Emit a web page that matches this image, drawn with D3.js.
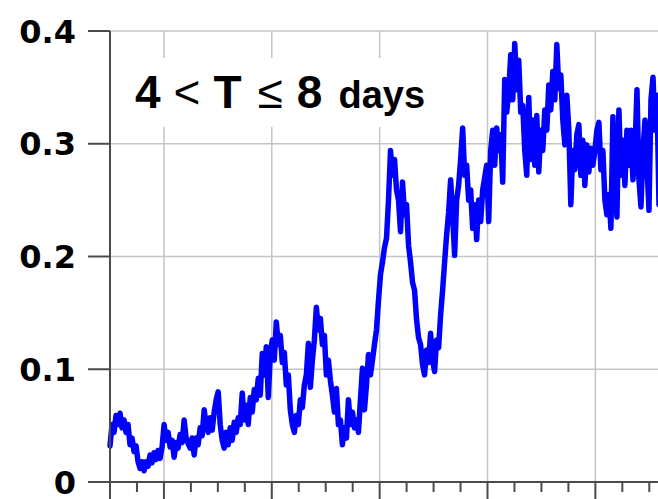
<!DOCTYPE html>
<html>
<head>
<meta charset="utf-8">
<script src="https://cdn.jsdelivr.net/npm/d3@7"></script>
<style>
  html, body { margin: 0; padding: 0; background: #fff; overflow: hidden; }
  svg { display: block; }
</style>
</head>
<body>
<svg id="chart" width="658" height="499"></svg>
<script>
// Y axis ticks and labels
const yTicks = [0, 0.1, 0.2, 0.3, 0.4];
const yTickLabels = ["0", "0.1", "0.2", "0.3", "0.4"];

// X axis: major (gridded) positions and minor tick positions
const xMajor = [0, 1, 2, 3, 4];
const xMinor = [-0.5, -0.25, 0, 0.25, 0.5, 0.75, 1, 1.25, 1.5, 1.75, 2, 2.25, 2.5, 2.75,
                3, 3.25, 3.5, 3.75, 4, 4.25, 4.5];

// Time span covered by the series (evenly sampled)
const tFirst = -0.5;
const tLast = 4.59;

// Series values
const series = [
  // early segment, low level
  0.032, 0.051, 0.044, 0.059, 0.051, 0.061, 0.048, 0.055, 0.044, 0.051,
  0.033, 0.039, 0.027, 0.032, 0.018, 0.012, 0.018, 0.010, 0.018, 0.014,
  0.024, 0.017, 0.026, 0.020, 0.028, 0.021, 0.031, 0.051, 0.037, 0.044,
  0.031, 0.037, 0.022, 0.035, 0.030, 0.042, 0.035, 0.055, 0.039, 0.034,
  0.030, 0.039, 0.024, 0.039, 0.033, 0.048, 0.041, 0.064,
  // first bump
  0.051, 0.044, 0.057, 0.046, 0.062, 0.073, 0.080, 0.051, 0.037, 0.030,
  0.044, 0.033, 0.048, 0.037, 0.053, 0.044, 0.057, 0.051, 0.079, 0.055,
  0.068, 0.051, 0.075, 0.062, 0.082, 0.073, 0.092, 0.077, 0.114, 0.095,
  0.120, 0.075, 0.113, 0.126, 0.108, 0.142, 0.122, 0.130, 0.106, 0.115,
  0.086, 0.095, 0.064, 0.051, 0.044,
  // second bump and the climb
  0.059, 0.051, 0.073, 0.066, 0.086, 0.095, 0.123, 0.084, 0.108, 0.126,
  0.155, 0.135, 0.145, 0.122, 0.130, 0.095, 0.108, 0.090, 0.077, 0.062,
  0.083, 0.051, 0.055, 0.033, 0.048, 0.039, 0.073, 0.051, 0.062, 0.048,
  0.055, 0.044, 0.073, 0.101, 0.064, 0.086, 0.113, 0.095, 0.108, 0.122,
  0.135, 0.161, 0.184, 0.195, 0.208, 0.216, 0.250,
  // peak, dip and recovery
  0.294, 0.272, 0.286, 0.259, 0.250, 0.222, 0.266, 0.237, 0.246, 0.210,
  0.195, 0.177, 0.170, 0.144, 0.128, 0.122, 0.104, 0.095, 0.117, 0.106,
  0.132, 0.108, 0.098, 0.126, 0.119, 0.148, 0.170, 0.195, 0.219, 0.239,
  0.268, 0.237, 0.201, 0.250, 0.263, 0.286, 0.314, 0.272, 0.281, 0.250,
  0.259, 0.225, 0.246, 0.215,
  // high plateau
  0.250, 0.231, 0.259, 0.270, 0.281, 0.231, 0.294, 0.312, 0.281, 0.314,
  0.294, 0.308, 0.266, 0.357, 0.328, 0.346, 0.379, 0.339, 0.389, 0.348,
  0.374, 0.328, 0.334, 0.294, 0.272, 0.341, 0.286, 0.321, 0.281, 0.325,
  0.275, 0.312, 0.294, 0.330, 0.312, 0.352, 0.330, 0.364, 0.339, 0.388,
  0.349, 0.361, 0.321, 0.299, 0.343, 0.312, 0.246,
  // late, noisy stretch
  0.294, 0.277, 0.308, 0.317, 0.272, 0.303, 0.263, 0.299, 0.275, 0.296,
  0.281, 0.294, 0.312, 0.319, 0.277, 0.294, 0.250, 0.237, 0.255, 0.225,
  0.324, 0.259, 0.235, 0.330, 0.272, 0.303, 0.263, 0.312, 0.281, 0.312,
  0.268, 0.294, 0.348, 0.268, 0.244, 0.294, 0.321, 0.281, 0.241, 0.339,
  0.359, 0.312, 0.343, 0.246
];

const W = 658, H = 499;
const plot = { left: 110, right: 659, top: 31, bottom: 482 };

const svg = d3.select("#chart");

const x = d3.scaleLinear().domain([tFirst, tLast]).range([plot.left, plot.right]);
const y = d3.scaleLinear().domain([0, 0.4]).range([plot.bottom, plot.top]);

const tStep = (tLast - tFirst) / (series.length - 1);
const points = series.map((v, i) => ({ t: tFirst + i * tStep, v }));

const gridColor = "#c4c4c4";
const axisColor = "#4a4a4a";

// Grid
const grid = svg.append("g");
grid.selectAll("line.h").data(yTicks.filter(d => d > 0)).join("line")
  .attr("x1", plot.left).attr("x2", W)
  .attr("y1", d => y(d)).attr("y2", d => y(d))
  .attr("stroke", gridColor).attr("stroke-width", 1.5);
grid.selectAll("line.v").data(xMajor).join("line")
  .attr("x1", d => x(d)).attr("x2", d => x(d))
  .attr("y1", y(0.4)).attr("y2", y(0))
  .attr("stroke", gridColor).attr("stroke-width", 1.5);

// Title box
svg.append("rect")
  .attr("x", 120).attr("y", 58).attr("width", 320).attr("height", 69)
  .attr("fill", "#fff");

const title = svg.append("text")
  .attr("x", 135).attr("y", 108)
  .attr("font-family", "'Liberation Sans', Arial, sans-serif")
  .attr("font-size", 46)
  .attr("fill", "#000");
title.append("tspan").attr("font-weight", "bold").text("4");
title.append("tspan").attr("dx", 13).attr("font-weight", "normal").text("<");
title.append("tspan").attr("dx", 13).attr("font-weight", "bold").text("T");
title.append("tspan").attr("dx", 16).attr("font-weight", "normal").text("≤");
title.append("tspan").attr("dx", 14).attr("font-weight", "bold").text("8");
title.append("tspan").attr("dx", 16).attr("font-weight", "bold").attr("font-size", 38).text("days");

// Series line
const line = d3.line().x(d => x(d.t)).y(d => y(d.v));
svg.append("path")
  .datum(points)
  .attr("d", line)
  .attr("fill", "none")
  .attr("stroke", "#0000ff")
  .attr("stroke-width", 5.5)
  .attr("stroke-linejoin", "round")
  .attr("stroke-linecap", "round");

// X axis
const xAxis = svg.append("g");
xAxis.append("line")
  .attr("x1", plot.left).attr("x2", W)
  .attr("y1", y(0)).attr("y2", y(0))
  .attr("stroke", axisColor).attr("stroke-width", 2);
xAxis.selectAll("line.tick").data(xMinor).join("line")
  .attr("x1", d => x(d)).attr("x2", d => x(d))
  .attr("y1", y(0))
  .attr("y2", d => (Number.isInteger(d) ? H : y(0) + 10))
  .attr("stroke", axisColor).attr("stroke-width", 2);

// Y axis
const yAxis = svg.append("g");
yAxis.append("line")
  .attr("x1", plot.left).attr("x2", plot.left)
  .attr("y1", y(0.4)).attr("y2", H)
  .attr("stroke", axisColor).attr("stroke-width", 2);
yAxis.selectAll("line.tick").data(yTicks).join("line")
  .attr("x1", plot.left - 22).attr("x2", plot.left)
  .attr("y1", d => y(d)).attr("y2", d => y(d))
  .attr("stroke", axisColor).attr("stroke-width", 2);
yAxis.selectAll("text").data(yTicks).join("text")
  .attr("x", 76)
  .attr("y", d => y(d))
  .attr("dy", "0.36em")
  .attr("text-anchor", "end")
  .attr("font-family", "'DejaVu Sans', sans-serif")
  .attr("font-weight", "bold")
  .attr("font-size", 32)
  .attr("fill", "#000")
  .text((d, i) => yTickLabels[i]);
</script>
</body>
</html>
